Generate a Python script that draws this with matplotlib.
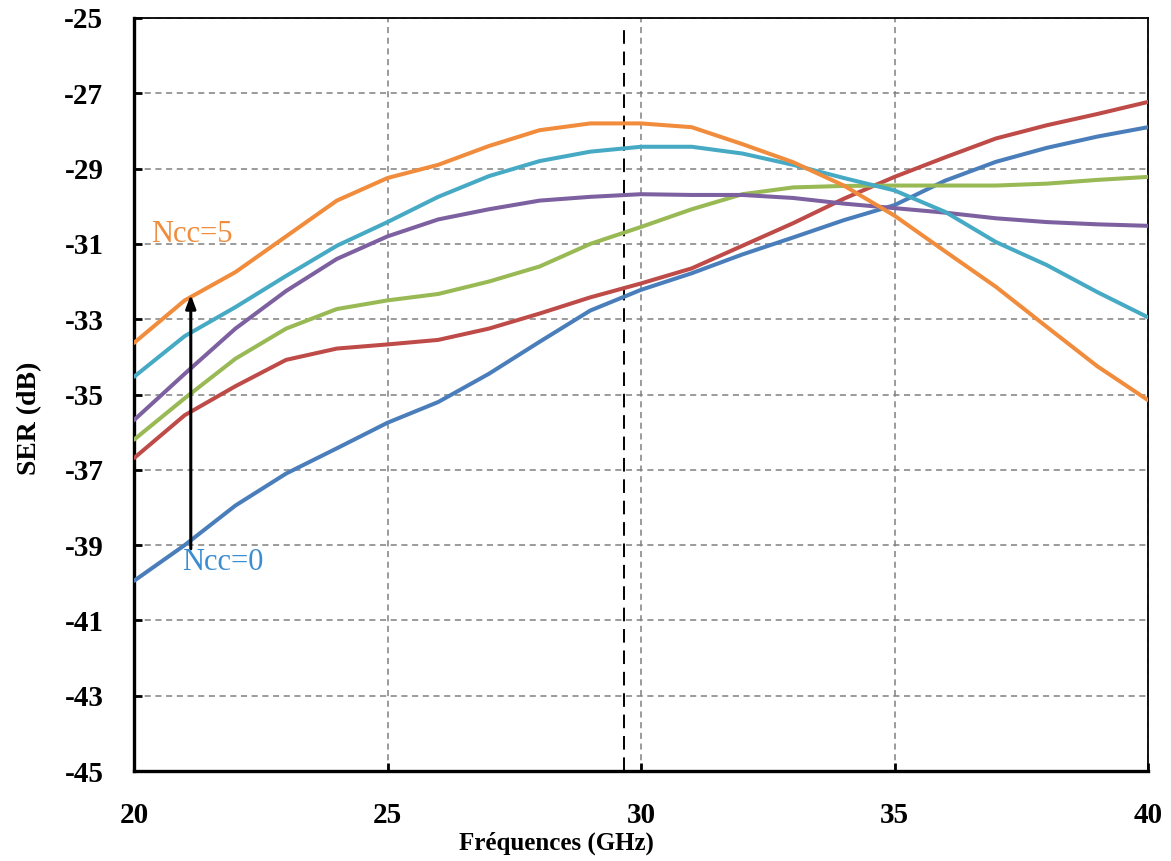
import matplotlib
matplotlib.use("Agg")
import matplotlib.pyplot as plt

freq = [20, 21, 22, 23, 24, 25, 26, 27, 28, 29, 30, 31, 32, 33, 34, 35, 36, 37, 38, 39, 40]

ser_ncc0 = [-39.95, -39.0, -37.95, -37.1, -36.43, -35.75, -35.2, -34.45, -33.6, -32.77, -32.22,
            -31.78, -31.28, -30.83, -30.37, -29.97, -29.32, -28.82, -28.45, -28.15, -27.9]
ser_ncc1 = [-36.69, -35.55, -34.78, -34.08, -33.78, -33.67, -33.55, -33.25, -32.85, -32.42, -32.05,
            -31.65, -31.05, -30.45, -29.8, -29.22, -28.7, -28.2, -27.85, -27.55, -27.23]
ser_ncc2 = [-36.2, -35.1, -34.05, -33.25, -32.73, -32.5, -32.33, -32.0, -31.6, -31.0, -30.55,
            -30.08, -29.68, -29.5, -29.46, -29.45, -29.45, -29.45, -29.4, -29.3, -29.22]
ser_ncc3 = [-35.68, -34.45, -33.25, -32.25, -31.4, -30.8, -30.35, -30.08, -29.85, -29.75, -29.68,
            -29.7, -29.7, -29.78, -29.93, -30.05, -30.17, -30.32, -30.42, -30.48, -30.52]
ser_ncc4 = [-34.53, -33.45, -32.68, -31.85, -31.05, -30.42, -29.75, -29.2, -28.8, -28.55, -28.42,
            -28.42, -28.6, -28.9, -29.25, -29.58, -30.15, -30.95, -31.56, -32.28, -32.95]
ser_ncc5 = [-33.63, -32.5, -31.75, -30.8, -29.85, -29.25, -28.9, -28.4, -27.98, -27.8, -27.8,
            -27.9, -28.35, -28.83, -29.45, -30.25, -31.2, -32.14, -33.2, -34.25, -35.15]

series = [ser_ncc0, ser_ncc1, ser_ncc2, ser_ncc3, ser_ncc4, ser_ncc5]
colors = ["#4A7EBB", "#BE4B48", "#98B954", "#7D60A0", "#46AAC5", "#F08C3C"]

x_ticks = [20, 25, 30, 35, 40]
y_ticks = [-25, -27, -29, -31, -33, -35, -37, -39, -41, -43, -45]

marker_freq = 29.66
arrow_x = 21.12
arrow_from = -39.1
arrow_to = -32.35

fig = plt.figure(figsize=(11.71, 8.61), dpi=100)
ax = fig.add_axes([134/1171, 1 - 771/861, (1148-134)/1171, (771-18)/861])

for s, c in zip(series, colors):
    ax.plot(freq, s, color=c, lw=2.9, solid_capstyle="round", solid_joinstyle="round", zorder=3)

ax.set_xlim(20, 40)
ax.set_ylim(-45, -25)
ax.set_xticks(x_ticks)
ax.set_yticks(y_ticks)
ax.set_xticklabels([str(v) for v in x_ticks])
ax.set_yticklabels([str(v) for v in y_ticks])

ax.grid(True, color="#808080", linestyle=(0, (4, 3)), linewidth=1.1, zorder=1)

for side in ["left", "bottom"]:
    ax.spines[side].set_linewidth(2.4)
for side in ["top", "right"]:
    ax.spines[side].set_linewidth(1.3)
for sp in ax.spines.values():
    sp.set_color("black")

ax.tick_params(axis="both", direction="in", length=6, width=2, pad=22)
for lab in ax.get_xticklabels() + ax.get_yticklabels():
    lab.set_fontfamily("Liberation Serif")
    lab.set_fontweight("bold")
    lab.set_fontsize(21)

ax.set_xlabel("Fréquences (GHz)", fontfamily="Liberation Serif", fontweight="bold", fontsize=18)
ax.set_ylabel("SER (dB)", fontfamily="Liberation Serif", fontweight="bold", fontsize=20)
ax.xaxis.set_label_coords(0.417, -0.08)
ax.yaxis.set_label_coords(-0.091, 0.468)

ax.plot([marker_freq, marker_freq], [-45, -25.2], color="black", lw=1.4,
        linestyle=(0, (7, 4)), zorder=2)

ax.annotate("", xy=(arrow_x, arrow_to), xytext=(arrow_x, arrow_from),
            arrowprops=dict(arrowstyle="-|>,head_length=0.8,head_width=0.3",
                            color="black", lw=2.2, shrinkA=0, shrinkB=0), zorder=4)

ax.text(20.34, -30.76, "Ncc=5", color="#F08C3C", fontfamily="Liberation Serif",
        fontsize=22, ha="left", va="center", zorder=5)
ax.text(20.94, -39.45, "Ncc=0", color="#3A8DD2", fontfamily="Liberation Serif",
        fontsize=22, ha="left", va="center", zorder=5)

fig.savefig("out.png", dpi=100)
